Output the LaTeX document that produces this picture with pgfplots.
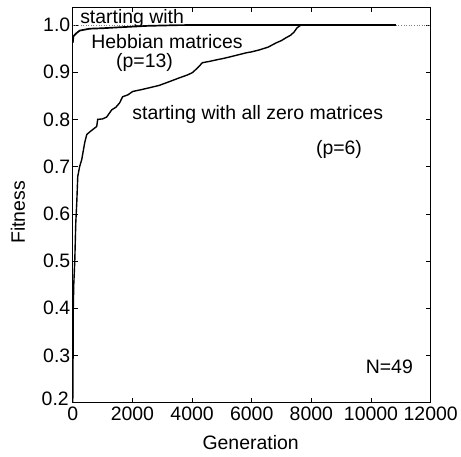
\documentclass[border=0pt]{standalone}
\usepackage{fontspec}
\setmainfont{Liberation Sans}
\usepackage{pgfplots}
\pgfplotsset{compat=1.18}
\newcommand{\F}{\fontsize{19.5bp}{23bp}\selectfont}
\begin{document}
\begin{tikzpicture}[font=\F]
\begin{axis}[
  scale only axis,
  width=359bp, height=397bp,
  xmin=0, xmax=12000, ymin=0.2, ymax=1.038,
  xtick={0,2000,...,12000},
  ytick={0.3,0.4,...,1.0},
  extra y ticks={0.2},
  extra y tick style={yticklabel style={yshift=4bp, xshift=-1.5bp}},
  scaled x ticks=false,
  /pgf/number format/assume math mode=true,
  xticklabel style={/pgf/number format/1000 sep={}, yshift=-1bp},
  yticklabel style={/pgf/number format/fixed, /pgf/number format/fixed zerofill, /pgf/number format/precision=1, xshift=1bp},
  tick label style={font=\F},
  label style={font=\F},
  major tick length=5bp,
  tick align=inside,
  axis line style={line width=0.8bp},
  every tick/.style={line width=0.6bp, black},
  xlabel={Generation},
  ylabel={Fitness},
  xlabel style={at={(axis description cs:0.497,0)}, anchor=base, yshift=-47bp},
  ylabel style={at={(axis description cs:-0.153,0.481)}, anchor=center},
]
% dotted line at 1.0
\addplot[gray, dotted, line width=0.6bp] coordinates {(0,1.0) (12000,1.0)};
% Hebbian start
\addplot[black, line width=1.7bp] coordinates {
(0,0.962) (10,0.968) (17,0.975) (40,0.977) (67,0.979) (150,0.984) (234,0.988)
(400,0.990) (569,0.992) (1000,0.993) (1571,0.995) (2500,0.998) (3500,0.9995) (4500,1.0) (10830,1.0)
};
% zero start
\addplot[black, line width=1.4bp] coordinates {
(0,0.2) (10,0.30) (17,0.40) (33,0.45) (67,0.50) (100,0.58) (134,0.624) (167,0.679)
(230,0.700) (301,0.715) (401,0.751) (468,0.768) (600,0.775) (802,0.785) (836,0.80)
(1000,0.801) (1137,0.805) (1304,0.82) (1450,0.826) (1571,0.835) (1672,0.848) (1850,0.852)
(2006,0.859) (2300,0.863) (2574,0.867) (2900,0.872) (3243,0.880) (3577,0.888) (3844,0.894)
(4012,0.899) (4200,0.910) (4346,0.920) (4600,0.923) (4814,0.926) (5050,0.929) (5249,0.932)
(5500,0.936) (5817,0.941) (6000,0.943) (6251,0.947) (6550,0.953) (6820,0.962) (7000,0.967)
(7154,0.973) (7300,0.978) (7421,0.985) (7522,0.994) (7656,1.0) (10830,1.0)
};
\node[anchor=base] at (axis cs:1990,1.004) {starting with};
\node[anchor=base] at (axis cs:3159,0.951) {Hebbian matrices};
\node[anchor=base] at (axis cs:2407,0.909) {(p=13)};
\node[anchor=base] at (axis cs:6202,0.7995) {starting with all zero matrices};
\node[anchor=base] at (axis cs:8926,0.7256) {(p=6)};
\node[anchor=base] at (axis cs:10614,0.261) {N=49};
\end{axis}
\path (current axis.south west) ++(-73bp,-54bp) coordinate (bbA);
\path (current axis.north east) ++(29bp,7bp) coordinate (bbB);
\path (bbA) rectangle (bbB);
\end{tikzpicture}
\end{document}
